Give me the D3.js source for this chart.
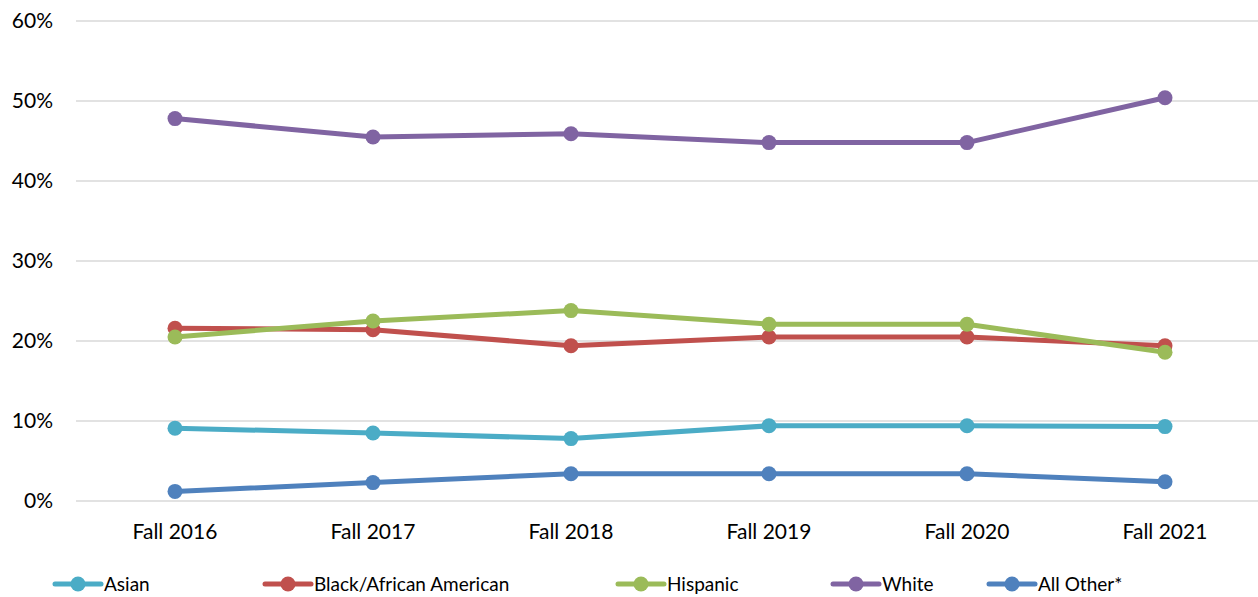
<!DOCTYPE html>
<html><head><meta charset="utf-8">
<script src="https://cdn.jsdelivr.net/npm/d3@7"></script>
<style>html,body{margin:0;padding:0;background:#fff;}svg{display:block;font-family:Lato,"Open Sans",sans-serif;}</style>
</head><body><svg id="c" width="1258" height="597"></svg>
<script>
const categories = ["Fall 2016","Fall 2017","Fall 2018","Fall 2019","Fall 2020","Fall 2021"];
const seriesNames = ["Asian","Black/African American","Hispanic","White","All Other*"];
const asian = [9.1, 8.5, 7.8, 9.4, 9.4, 9.3];
const black = [21.6, 21.4, 19.4, 20.5, 20.5, 19.4];
const hispanic = [20.5, 22.5, 23.8, 22.1, 22.1, 18.6];
const white = [47.8, 45.5, 45.9, 44.8, 44.8, 50.4];
const allOther = [1.2, 2.3, 3.4, 3.4, 3.4, 2.4];
const yTicks = [0, 10, 20, 30, 40, 50, 60];
const colors = ["#4BACC6","#C0504D","#9BBB59","#8064A2","#4F81BD"];
const legendX = [55, 265, 618, 833, 989];

const seriesValues = [asian, black, hispanic, white, allOther];
const svg = d3.select("#c");
const x = d3.scaleBand().domain(categories).range([76, 1264]);
const y = d3.scaleLinear().domain([0, 60]).range([501, 21]);

// gridlines
svg.append("g").selectAll("line").data(yTicks).join("line")
  .attr("x1", 76).attr("x2", 1258)
  .attr("y1", d => y(d)).attr("y2", d => y(d))
  .attr("stroke", "#d9d9d9").attr("stroke-width", 1.5);

// y labels
svg.append("g").selectAll("text").data(yTicks).join("text")
  .attr("x", 53).attr("y", d => y(d)).attr("dy", "0.35em")
  .attr("text-anchor", "end").attr("font-size", 21).attr("fill", "#000")
  .text(d => d + "%");

// x labels
svg.append("g").selectAll("text").data(categories).join("text")
  .attr("x", d => x(d) + x.bandwidth()/2).attr("y", 532).attr("dy", "0.35em")
  .attr("text-anchor", "middle").attr("font-size", 21).attr("fill", "#000")
  .text(d => d);

const line = d3.line().x((d,i) => x(categories[i]) + x.bandwidth()/2).y(d => y(d));
seriesValues.forEach((vals, si) => {
  const g = svg.append("g");
  g.append("path").datum(vals).attr("d", line)
    .attr("fill", "none").attr("stroke", colors[si]).attr("stroke-width", 5)
    .attr("stroke-linejoin", "round").attr("stroke-linecap", "round");
  g.selectAll("circle").data(vals).join("circle")
    .attr("cx", (d,i) => x(categories[i]) + x.bandwidth()/2).attr("cy", d => y(d))
    .attr("r", 7.5).attr("fill", colors[si]);
});

// legend
const lg = svg.append("g");
seriesNames.forEach((n, i) => {
  const lx = legendX[i];
  lg.append("line").attr("x1", lx).attr("x2", lx + 46).attr("y1", 584).attr("y2", 584)
    .attr("stroke", colors[i]).attr("stroke-width", 5).attr("stroke-linecap", "round");
  lg.append("circle").attr("cx", lx + 23).attr("cy", 584).attr("r", 7.5).attr("fill", colors[i]);
  lg.append("text").attr("x", lx + 49).attr("y", 584).attr("dy", "0.35em")
    .attr("font-size", 19).attr("fill", "#000").text(n);
});
</script></body></html>
